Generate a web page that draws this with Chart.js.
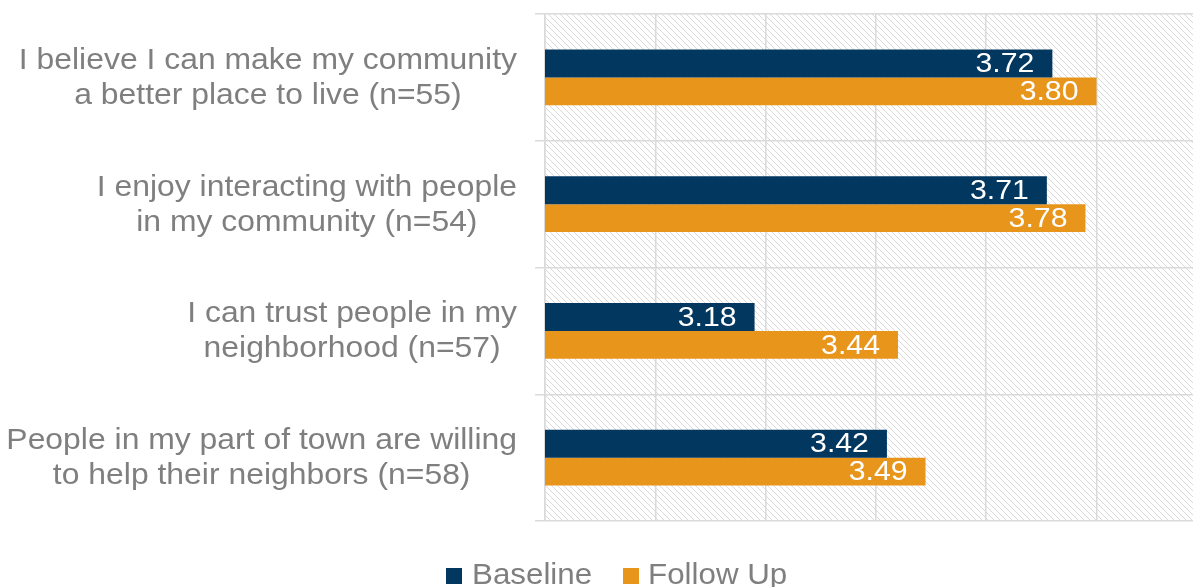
<!DOCTYPE html>
<html>
<head>
<meta charset="utf-8">
<script src="https://cdn.jsdelivr.net/npm/chart.js@4/dist/chart.umd.min.js"></script>
<style>
	html, body { margin: 0; padding: 0; background: #ffffff; overflow: hidden; }
	#wrap { width: 1193px; height: 587px; position: relative; }
</style>
</head>
<body>
<div id="wrap"><canvas id="barChart"></canvas></div>
<script>
const categories = [
	['I believe I can make my community', 'a better place to live (n=55)'],
	['I enjoy interacting with people', 'in my community (n=54)'],
	['I can trust people in my', 'neighborhood (n=57)'],
	['People in my part of town are willing', 'to help their neighbors (n=58)']
];
const baseline = [3.72, 3.71, 3.18, 3.42];
const followUp = [3.80, 3.78, 3.44, 3.49];
const seriesNames = ['Baseline', 'Follow Up'];
const seriesColors = ['#02375f', '#e8951c'];

const FONT = '"Liberation Sans", Arial, sans-serif';
const GRAY = '#7f7f7f';
const GRID = '#dadada';

// text drawn slightly wide, like the rest of the figure
function wideText(ctx, text, x, y, align, sx) {
	const w = ctx.measureText(text).width * sx;
	let x0 = x;
	if (align === 'right') x0 = x - w;
	else if (align === 'center') x0 = x - w / 2;
	ctx.save();
	ctx.translate(x0, y);
	ctx.scale(sx, 1);
	ctx.textAlign = 'left';
	ctx.fillText(text, 0, 0);
	ctx.restore();
	return w;
}

function hatchPattern(ctx) {
	const s = 6;
	const c = document.createElement('canvas');
	c.width = s; c.height = s;
	const p = c.getContext('2d');
	p.strokeStyle = '#d9d9d9';
	p.lineWidth = 1;
	p.beginPath();
	p.moveTo(-1, -1); p.lineTo(s + 1, s + 1);
	p.moveTo(-1, s - 1); p.lineTo(1, s + 1);
	p.moveTo(s - 1, -1); p.lineTo(s + 1, 1);
	p.stroke();
	return ctx.createPattern(c, 'repeat');
}

const plotBackground = {
	id: 'plotBackground',
	beforeDraw(chart) {
		const { ctx, chartArea: a } = chart;
		ctx.save();
		ctx.fillStyle = hatchPattern(ctx);
		ctx.fillRect(a.left, a.top, a.right - a.left, a.bottom - a.top);
		ctx.restore();
	}
};

const categoryLabels = {
	id: 'categoryLabels',
	afterDraw(chart) {
		const { ctx } = chart;
		const y = chart.scales.y;
		const sx = 1.1;
		ctx.save();
		ctx.font = '29px ' + FONT;
		ctx.fillStyle = GRAY;
		ctx.textBaseline = 'alphabetic';
		categories.forEach((lines, i) => {
			const cy = y.getPixelForValue(i);
			const maxW = Math.max(...lines.map(t => ctx.measureText(t).width * sx));
			const cx = 517 - maxW / 2;
			lines.forEach((t, k) => wideText(ctx, t, cx, cy - 8.5 + k * 35, 'center', sx));
		});
		ctx.restore();
	}
};

const valueLabels = {
	id: 'valueLabels',
	afterDatasetsDraw(chart) {
		const { ctx } = chart;
		ctx.save();
		ctx.font = '28px ' + FONT;
		ctx.fillStyle = '#ffffff';
		ctx.textBaseline = 'middle';
		chart.data.datasets.forEach((ds, di) => {
			chart.getDatasetMeta(di).data.forEach((bar, i) => {
				wideText(ctx, ds.data[i].toFixed(2), bar.x - 18, bar.y + 1, 'right', 1.08);
			});
		});
		ctx.restore();
	}
};

const bottomLegend = {
	id: 'bottomLegend',
	afterDraw(chart) {
		const { ctx } = chart;
		const items = [{ x: 446, tx: 472 }, { x: 623, tx: 648 }];
		ctx.save();
		ctx.font = '29px ' + FONT;
		ctx.textBaseline = 'alphabetic';
		items.forEach((it, i) => {
			ctx.fillStyle = seriesColors[i];
			ctx.fillRect(it.x, 568, 16, 16);
			ctx.fillStyle = GRAY;
			wideText(ctx, seriesNames[i], it.tx, 584, 'left', 1.08);
		});
		ctx.restore();
	}
};

const barCtx = document.getElementById('barChart').getContext('2d');
const barChart = new Chart(barCtx, {
	type: 'bar',
	data: {
		labels: categories,
		datasets: [{
			label: seriesNames[0],
			data: baseline,
			backgroundColor: seriesColors[0],
			categoryPercentage: 0.44,
			barPercentage: 1
		}, {
			label: seriesNames[1],
			data: followUp,
			backgroundColor: seriesColors[1],
			categoryPercentage: 0.44,
			barPercentage: 1
		}]
	},
	options: {
		indexAxis: 'y',
		responsive: true,
		maintainAspectRatio: false,
		animation: false,
		layout: {
			padding: { top: 14, bottom: 66, left: 0, right: 0 }
		},
		plugins: {
			legend: { display: false },
			tooltip: { enabled: false }
		},
		scales: {
			x: {
				min: 2.8,
				max: 3.975,
				ticks: { display: false, stepSize: 0.2, includeBounds: false },
				grid: { color: GRID, lineWidth: 1.5, drawTicks: false },
				border: { display: false },
				afterFit(scale) { scale.height = 0; }
			},
			y: {
				ticks: { display: false },
				grid: { color: GRID, lineWidth: 1.5, offset: true, drawTicks: true, tickLength: 10 },
				border: { color: GRID, width: 1.5 },
				afterFit(scale) { scale.width = 545; }
			}
		}
	},
	plugins: [plotBackground, categoryLabels, valueLabels, bottomLegend]
});
</script>
</body>
</html>
